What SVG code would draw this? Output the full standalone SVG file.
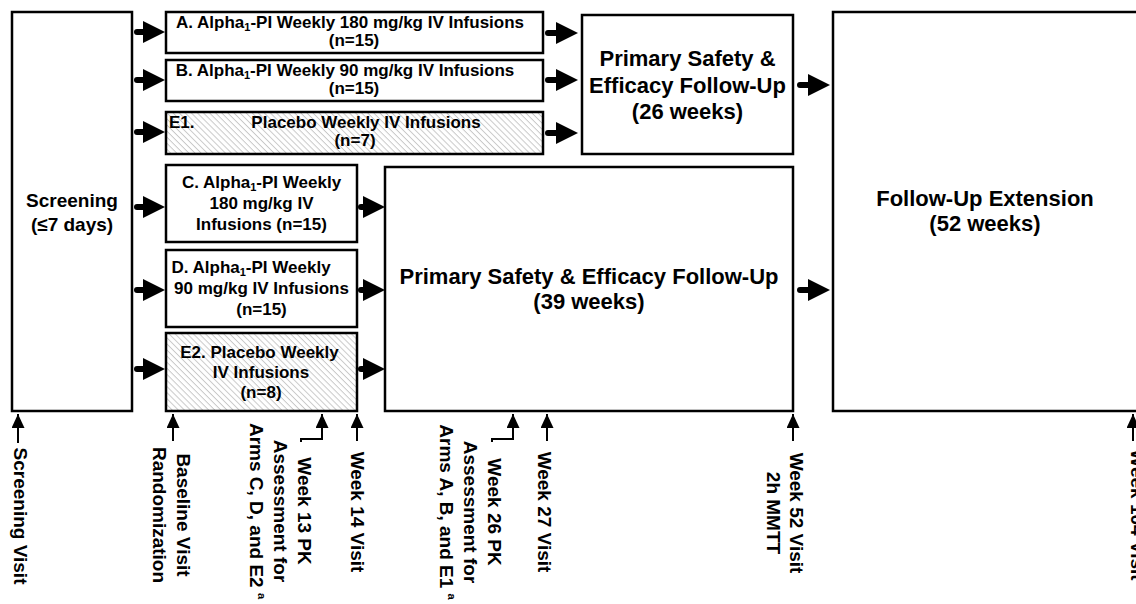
<svg xmlns="http://www.w3.org/2000/svg" width="1136" height="604" viewBox="0 0 1136 604">
<style>
.box{fill:#fff;stroke:#000;stroke-width:2.5}
.hat{fill:url(#hatch);stroke:#000;stroke-width:2.5}
text{font-family:"Liberation Sans",Arial,sans-serif;font-weight:bold;fill:#000}
.arm{font-size:17px}
.scr{font-size:19px}
.ttl{font-size:22px}
.lbl{font-size:19px}
.c{text-anchor:middle}
.thick{stroke:#000;stroke-width:6;stroke-linecap:round;fill:none;marker-end:url(#blk)}
.thin{stroke:#000;stroke-width:2;fill:none;marker-end:url(#up)}
</style>
<defs>
<pattern id="hatch" patternUnits="userSpaceOnUse" width="4.3" height="4.3" patternTransform="rotate(45)">
<rect width="4.3" height="4.3" fill="#fff"/>
<line x1="0" y1="0.5" x2="4.3" y2="0.5" stroke="#c4c4c4" stroke-width="0.9"/>
</pattern>
<marker id="blk" markerUnits="userSpaceOnUse" markerWidth="22" markerHeight="22" viewBox="0 0 22 22" refX="0" refY="11" orient="auto">
<path d="M0,0 L22,11 L0,22 z" fill="#000"/>
</marker>
<marker id="up" markerUnits="userSpaceOnUse" markerWidth="14" markerHeight="13" viewBox="0 0 14 13" refX="14" refY="6.5" orient="auto">
<path d="M0,0 L14,6.5 L0,13 z" fill="#000"/>
</marker>
</defs>

<g id="screening">
<rect class="box" x="12" y="12" width="120" height="399"/>
<text class="scr c" x="72" y="207">Screening</text>
<text class="scr c" x="72" y="231">(≤7 days)</text>
</g>

<g id="armA">
<rect class="box" x="166" y="12" width="377" height="41"/>
<text class="arm c" x="350" y="28">A. Alpha<tspan font-size="11" dy="3">1</tspan><tspan dy="-3">-PI Weekly 180 mg/kg IV Infusions</tspan></text>
<text class="arm c" x="354" y="46">(n=15)</text>
</g>

<g id="armB">
<rect class="box" x="166" y="60" width="377" height="41"/>
<text class="arm c" x="345" y="76">B. Alpha<tspan font-size="11" dy="3">1</tspan><tspan dy="-3">-PI Weekly 90 mg/kg IV Infusions</tspan></text>
<text class="arm c" x="354" y="94">(n=15)</text>
</g>

<g id="armE1">
<rect class="hat" x="166" y="112" width="377" height="42"/>
<text class="arm" x="169" y="128">E1.</text>
<text class="arm c" x="366" y="128">Placebo Weekly IV Infusions</text>
<text class="arm c" x="355" y="146">(n=7)</text>
</g>

<g id="follow26">
<rect class="box" x="582" y="15" width="211" height="139"/>
<text class="ttl c" x="687.5" y="66">Primary Safety &amp;</text>
<text class="ttl c" x="687.5" y="93">Efficacy Follow-Up</text>
<text class="ttl c" x="687.5" y="119">(26 weeks)</text>
</g>

<g id="armC">
<rect class="box" x="166" y="165" width="191" height="77"/>
<text class="arm c" x="261.5" y="188">C. Alpha<tspan font-size="11" dy="3">1</tspan><tspan dy="-3">-PI Weekly</tspan></text>
<text class="arm c" x="261.5" y="209">180 mg/kg IV</text>
<text class="arm c" x="261.5" y="230">Infusions (n=15)</text>
</g>

<g id="armD">
<rect class="box" x="166" y="250" width="191" height="77"/>
<text class="arm c" x="251" y="273">D. Alpha<tspan font-size="11" dy="3">1</tspan><tspan dy="-3">-PI Weekly</tspan></text>
<text class="arm c" x="261.5" y="294">90 mg/kg IV Infusions</text>
<text class="arm c" x="261.5" y="315">(n=15)</text>
</g>

<g id="armE2">
<rect class="hat" x="166" y="333" width="191" height="78"/>
<text class="arm c" x="259.5" y="358">E2. Placebo Weekly</text>
<text class="arm c" x="261" y="378">IV Infusions</text>
<text class="arm c" x="261" y="398">(n=8)</text>
</g>

<g id="follow39">
<rect class="box" x="385" y="167" width="408" height="244"/>
<text class="ttl c" x="589" y="284">Primary Safety &amp; Efficacy Follow-Up</text>
<text class="ttl c" x="589" y="309">(39 weeks)</text>
</g>

<g id="extension">
<rect class="box" x="833" y="12" width="310" height="399"/>
<text class="ttl c" x="985" y="206">Follow-Up Extension</text>
<text class="ttl c" x="985" y="231">(52 weeks)</text>
</g>

<g id="connectors">
<line class="thick" x1="137" y1="32" x2="143" y2="32"/>
<line class="thick" x1="137" y1="80" x2="143" y2="80"/>
<line class="thick" x1="137" y1="132" x2="143" y2="132"/>
<line class="thick" x1="137" y1="207" x2="143" y2="207"/>
<line class="thick" x1="137" y1="290" x2="143" y2="290"/>
<line class="thick" x1="137" y1="369" x2="143" y2="369"/>
<line class="thick" x1="548" y1="33" x2="556" y2="33"/>
<line class="thick" x1="548" y1="80" x2="556" y2="80"/>
<line class="thick" x1="548" y1="133" x2="556" y2="133"/>
<line class="thick" x1="361" y1="207" x2="363" y2="207"/>
<line class="thick" x1="361" y1="290" x2="363" y2="290"/>
<line class="thick" x1="361" y1="369" x2="363" y2="369"/>
<line class="thick" x1="800" y1="85" x2="808" y2="85"/>
<line class="thick" x1="800" y1="290" x2="808" y2="290"/>
<line class="thin" x1="18" y1="443" x2="18" y2="414"/>
<line class="thin" x1="173" y1="441" x2="173" y2="414"/>
<polyline class="thin" points="301,442 301,439 322,439 322,414"/>
<line class="thin" x1="357" y1="441" x2="357" y2="414"/>
<polyline class="thin" points="492,442 492,439 513,439 513,414"/>
<line class="thin" x1="547" y1="441" x2="547" y2="414"/>
<line class="thin" x1="793" y1="441" x2="793" y2="414"/>
<line class="thin" x1="1133" y1="441" x2="1133" y2="414"/>
</g>

<g id="timeline-labels">
<text class="lbl c" transform="translate(14,516) rotate(90)">Screening Visit</text>
<text class="lbl c" transform="translate(177,515) rotate(90)">Baseline Visit</text>
<text class="lbl c" transform="translate(153,515) rotate(90)">Randomization</text>
<text class="lbl c" transform="translate(298,511) rotate(90)">Week 13 PK</text>
<text class="lbl c" transform="translate(274,511) rotate(90)">Assessment for</text>
<text class="lbl c" transform="translate(250,511) rotate(90)">Arms C, D, and E2 <tspan font-size="11" dy="-8">a</tspan></text>
<text class="lbl c" transform="translate(351,512) rotate(90)">Week 14 Visit</text>
<text class="lbl c" transform="translate(488,512) rotate(90)">Week 26 PK</text>
<text class="lbl c" transform="translate(464,512) rotate(90)">Assessment for</text>
<text class="lbl c" transform="translate(440,512) rotate(90)">Arms A, B, and E1 <tspan font-size="11" dy="-8">a</tspan></text>
<text class="lbl c" transform="translate(538,512) rotate(90)">Week 27 Visit</text>
<text class="lbl c" transform="translate(790,513) rotate(90)">Week 52 Visit</text>
<text class="lbl c" transform="translate(767,513) rotate(90)">2h MMTT</text>
<text class="lbl c" transform="translate(1131,515) rotate(90)">Week 104 Visit</text>
</g>
</svg>
